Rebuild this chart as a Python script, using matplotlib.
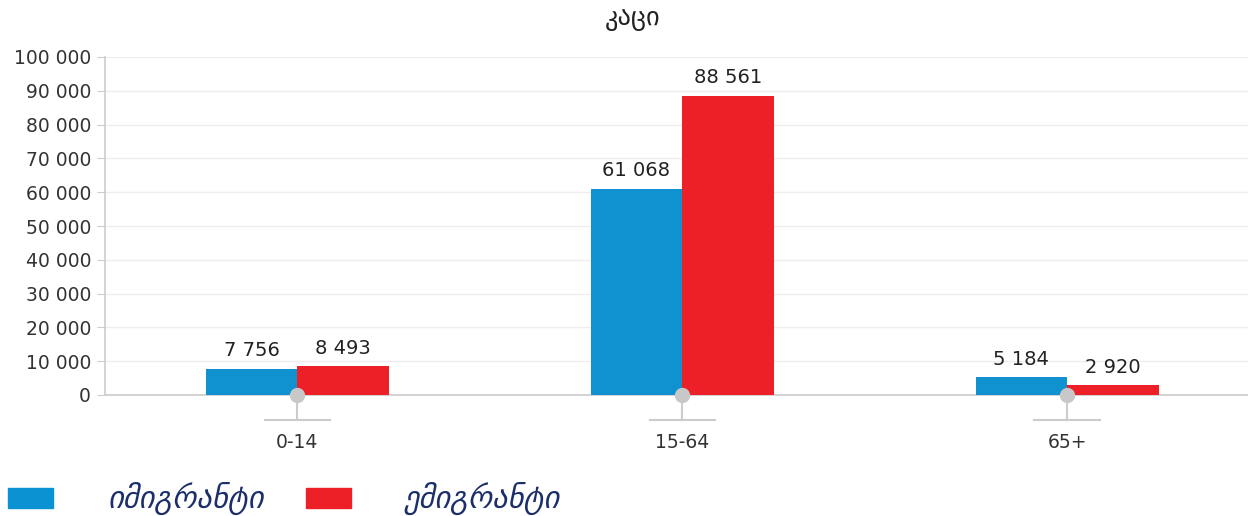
import matplotlib.pyplot as plt
from matplotlib.patches import Rectangle
from matplotlib.ticker import FuncFormatter
import numpy as np

# ასაკობრივი ჯგუფები და მნიშვნელობები
categories = ['0-14', '15-64', '65+']
immigrants = [7756, 61068, 5184]
emigrants = [8493, 88561, 2920]
labels = ['იმიგრანტი', 'ემიგრანტი']
title = 'კაცი'

BLUE = '#1192d0'
RED = '#ee2027'
GRAY = '#cccccc'
NAVY = '#1c2f6b'

plt.rcParams['font.family'] = ['DejaVu Sans']

fig = plt.figure(figsize=(12.48, 5.16), dpi=100)
ax = fig.add_axes([105 / 1248, 1 - 395 / 516, 1 - 105 / 1248, (395 - 57) / 516])

x = np.arange(len(categories))
w = 0.238
b1 = ax.bar(x - w / 2, immigrants, w, color=BLUE, zorder=3)
b2 = ax.bar(x + w / 2, emigrants, w, color=RED, zorder=3)

fmt = lambda v: f'{int(v):,}'.replace(',', ' ')
for bars in (b1, b2):
    for r in bars:
        ax.annotate(fmt(r.get_height()), (r.get_x() + r.get_width() / 2, r.get_height()),
                    xytext=(0, 6), textcoords='offset points', ha='center', va='bottom',
                    fontsize=14, color='#222222')

ax.set_xlim(-0.5, 2.47)
ax.set_ylim(0, 100000)
ax.set_yticks(np.arange(0, 100001, 10000))
ax.yaxis.set_major_formatter(FuncFormatter(lambda v, p: fmt(v)))
ax.tick_params(axis='y', labelsize=13.5, colors=GRAY, labelcolor='#333333', length=6, pad=4)
ax.grid(axis='y', color='#eeeeee', linewidth=1, zorder=0)

ax.set_xticks(x)
ax.set_xticklabels(categories)
ax.tick_params(axis='x', length=0, pad=27, labelsize=13.5, labelcolor='#333333')

for s in ('top', 'right'):
    ax.spines[s].set_visible(False)
for s in ('left', 'bottom'):
    ax.spines[s].set_color(GRAY)
    ax.spines[s].set_linewidth(1.2)

# маркеры под осью
trans = ax.get_xaxis_transform()
for xi in x:
    ax.plot([xi, xi], [0, -0.074], color=GRAY, lw=1.5, transform=trans, clip_on=False, zorder=2)
    ax.plot([xi - 0.085, xi + 0.085], [-0.074, -0.074], color=GRAY, lw=1.5,
            transform=trans, clip_on=False, zorder=2)
    ax.plot(xi, 0, 'o', color='#c8c8c8', ms=10, clip_on=False, zorder=4)

fig.text(633 / 1248, 1 - 18 / 516, title, ha='center', va='center', fontsize=19, color='#222222')

# легенда
for (x0, x1, tx), c, lab in zip([(8, 53, 108), (306, 351, 403)], [BLUE, RED], labels):
    fig.add_artist(Rectangle((x0 / 1248, 1 - 508 / 516), (x1 - x0) / 1248, 20 / 516,
                             transform=fig.transFigure, color='#0a92d2' if c == BLUE else RED))
    fig.text(tx / 1248, 1 - 498 / 516, lab, ha='left', va='center', fontsize=22,
             style='italic', color=NAVY)

fig.savefig('out.png', dpi=100)
